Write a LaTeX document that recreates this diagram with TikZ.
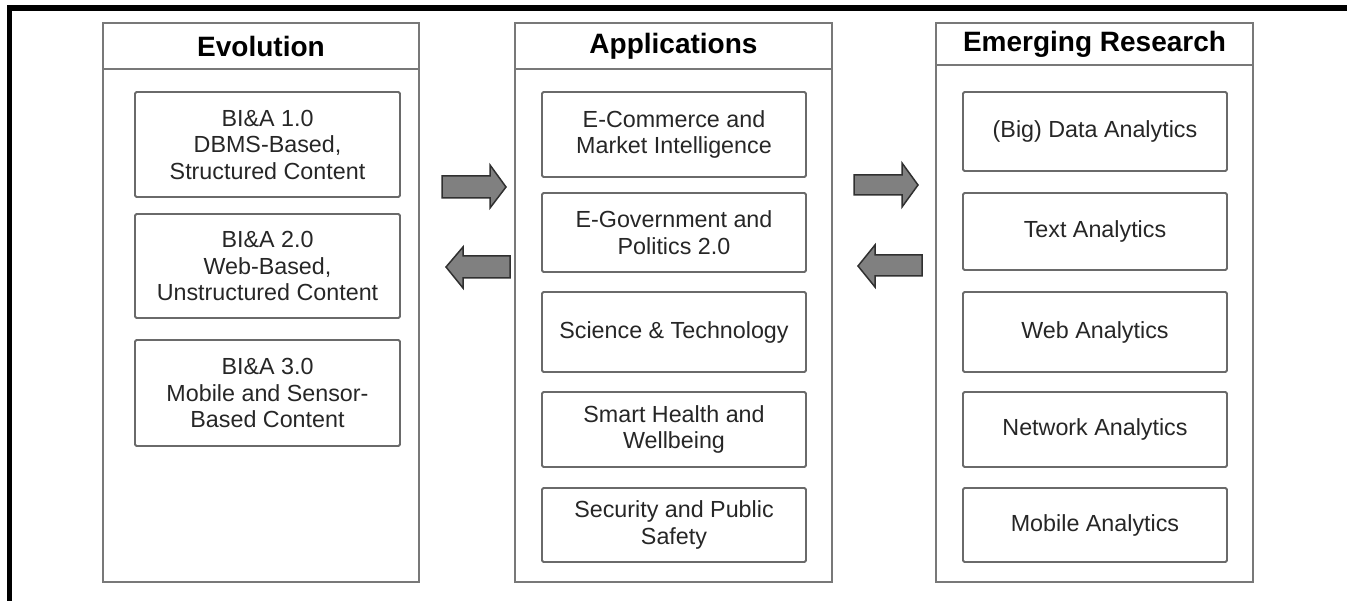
\documentclass[tikz,border=0pt]{standalone}
\usepackage{fontspec}
\setmainfont{Liberation Sans}
\definecolor{colline}{HTML}{787878}
\definecolor{boxline}{HTML}{6A6A6A}
\definecolor{txt}{HTML}{262626}
\definecolor{arrowfill}{HTML}{808080}
\definecolor{arrowline}{HTML}{303030}
\begin{document}
\begin{tikzpicture}[x=1pt,y=-1pt,
  col/.style={draw=colline, line width=2pt, inner sep=0pt},
  item/.style={draw=boxline, line width=1.8pt, rounded corners=1.5pt, align=center,
    text=txt, font=\fontsize{23.3}{26.5}\selectfont, inner sep=0pt},
  ttl/.style={font=\bfseries\fontsize{28}{32}\selectfont, text=black, inner sep=0pt},
  bigarrow/.style={fill=arrowfill, draw=arrowline, line width=1.5pt, line join=miter}]
\useasboundingbox (0,0) rectangle (1347,601);
% frame
\fill[black] (7,5) rectangle (1347,11);
\fill[black] (7,5) rectangle (12,601);
% columns
\node[col, minimum width=316pt, minimum height=559pt] (evo) at (261,302.5) {};
\node[col, minimum width=317pt, minimum height=559pt] (app) at (673.5,302.5) {};
\node[col, minimum width=317pt, minimum height=559pt] (emr) at (1094.5,302.5) {};
\draw[colline, line width=2pt] (evo.west |- 0,69) -- (evo.east |- 0,69);
\draw[colline, line width=2pt] (app.west |- 0,69) -- (app.east |- 0,69);
\draw[colline, line width=2pt] (emr.west |- 0,65) -- (emr.east |- 0,65);
\node[ttl] (evot) at (261,46) {Evolution};
\node[ttl] (appt) at (673.5,46) {Applications};
\node[ttl] (emrt) at (1094.5,44) {Emerging Research};
% evolution items
\node[item, minimum width=265pt, minimum height=105pt] (e1) at (267.5,144.5) {BI\&A 1.0\\DBMS-Based,\\Structured Content};
\node[item, minimum width=265pt, minimum height=104pt] (e2) at (267.5,266) {BI\&A 2.0\\Web-Based,\\Unstructured Content};
\node[item, minimum width=265pt, minimum height=106pt] (e3) at (267.5,393) {BI\&A 3.0\\Mobile and Sensor-\\Based Content};
% applications items
\node[item, minimum width=264pt, minimum height=85pt] (a1) at (674,134.5) {E-Commerce and\\Market Intelligence};
\node[item, minimum width=264pt, minimum height=79pt] (a2) at (674,232.5) {E-Government and\\Politics 2.0};
\node[item, minimum width=264pt, minimum height=80pt] (a3) at (674,332) {Science \& Technology};
\node[item, minimum width=264pt, minimum height=75pt] (a4) at (674,429.5) {Smart Health and\\Wellbeing};
\node[item, minimum width=264pt, minimum height=74pt] (a5) at (674,525) {Security and Public\\Safety};
% emerging items
\node[item, minimum width=264pt, minimum height=79pt] (r1) at (1095,131.5) {(Big) Data Analytics};
\node[item, minimum width=264pt, minimum height=77pt] (r2) at (1095,231.5) {Text Analytics};
\node[item, minimum width=264pt, minimum height=80pt] (r3) at (1095,332) {Web Analytics};
\node[item, minimum width=264pt, minimum height=75pt] (r4) at (1095,429.5) {Network Analytics};
\node[item, minimum width=264pt, minimum height=74pt] (r5) at (1095,525) {Mobile Analytics};
% block arrows
\draw[bigarrow] (442,176) -- (490,176) -- (490,165) -- (506,187) -- (490,208) -- (490,198) -- (442,198) -- cycle;
\draw[bigarrow] (510,256) -- (463,256) -- (463,247) -- (446,267) -- (463,288) -- (463,278) -- (510,278) -- cycle;
\draw[bigarrow] (854,175) -- (902,175) -- (902,163) -- (918,185) -- (902,207) -- (902,195) -- (854,195) -- cycle;
\draw[bigarrow] (922,255) -- (875,255) -- (875,245) -- (858,266) -- (875,287) -- (875,276) -- (922,276) -- cycle;
\end{tikzpicture}
\end{document}
